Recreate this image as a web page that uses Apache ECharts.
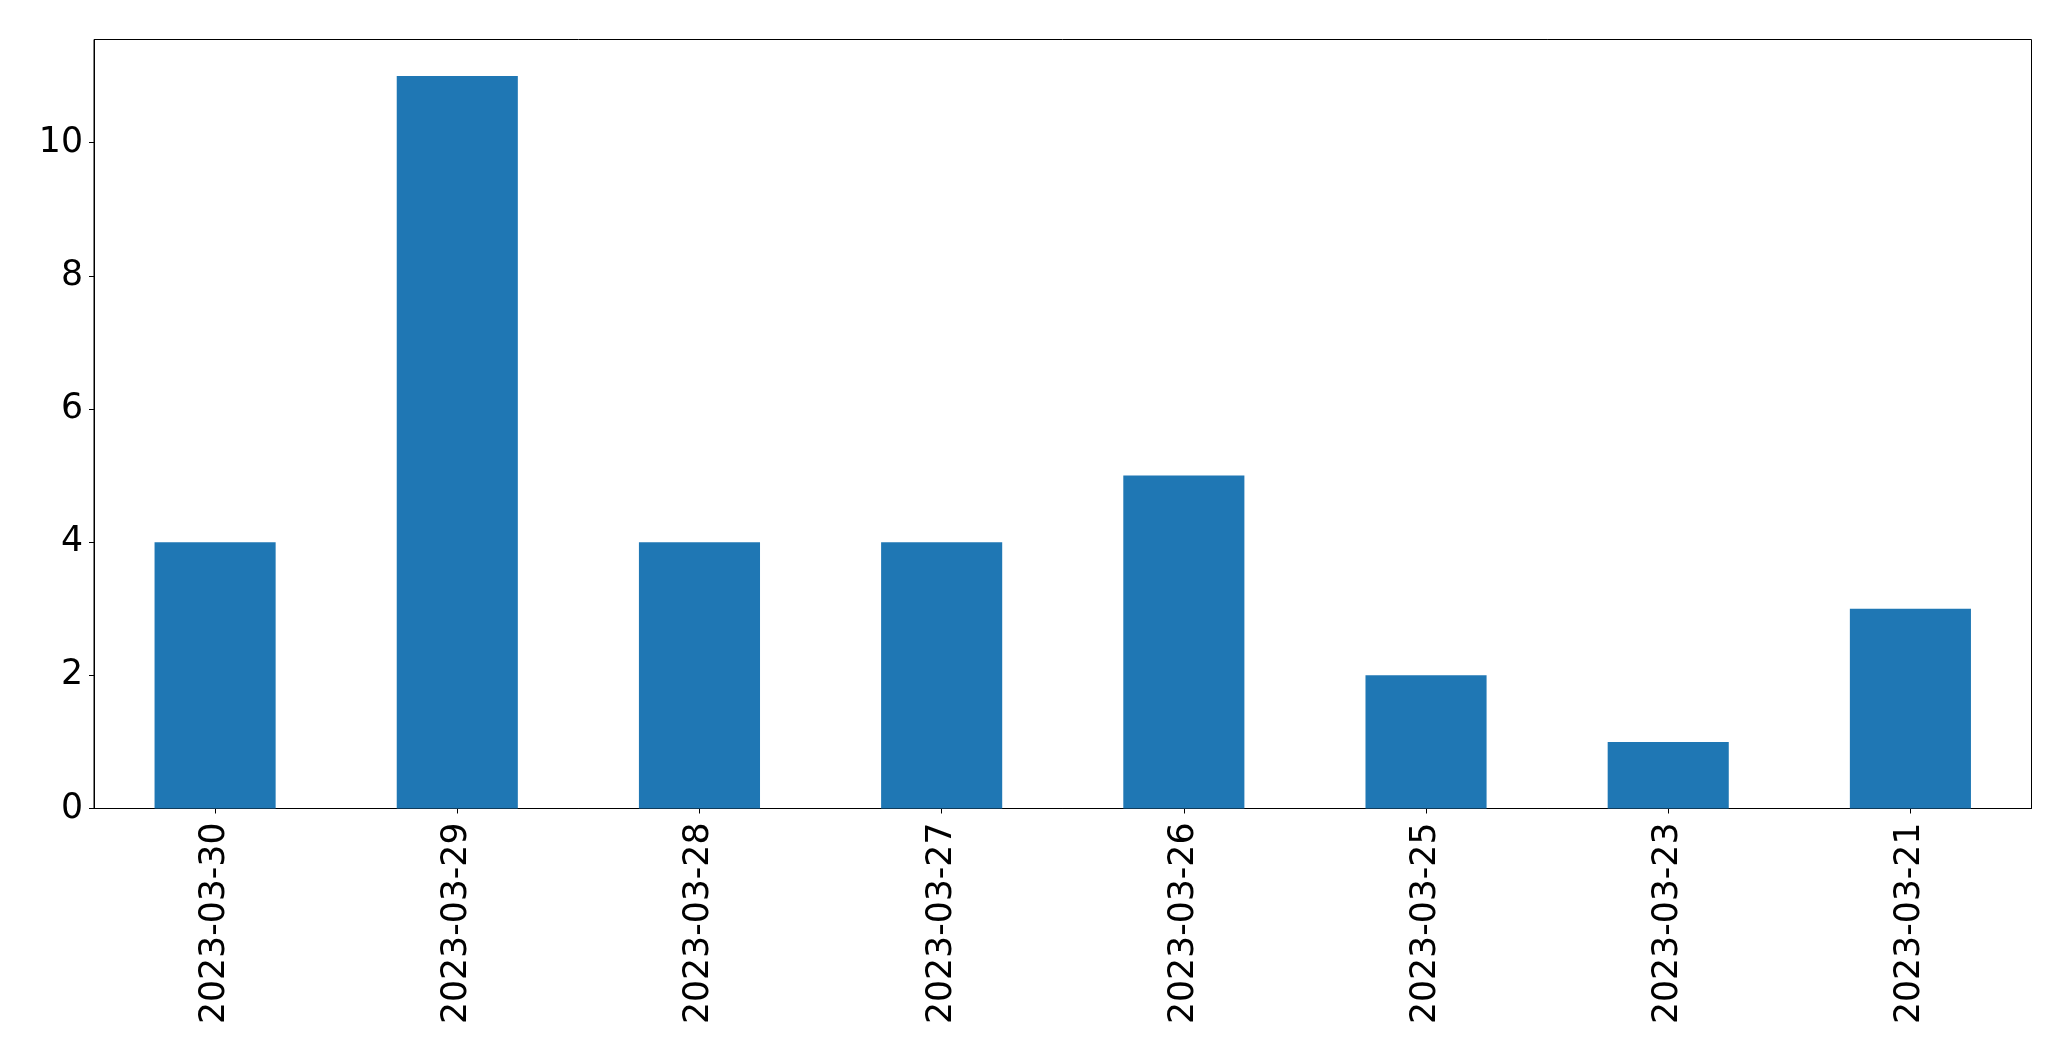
<!DOCTYPE html>
<html>
<head>
<meta charset="utf-8">
<script src="https://cdn.jsdelivr.net/npm/echarts@6/dist/echarts.min.js"></script>
<style>
html,body{margin:0;padding:0;background:#fff;}
#chart{width:2071px;height:1061px;}
</style>
</head>
<body>
<div id="chart"></div>
<script>
const categories = ['2023-03-30','2023-03-29','2023-03-28','2023-03-27','2023-03-26','2023-03-25','2023-03-23','2023-03-21'];
const values = [4, 11, 4, 4, 5, 2, 1, 3];
const yTicks = [0, 2, 4, 6, 8, 10];
const yMax = 11.55;

const chart = echarts.init(document.getElementById('chart'), null, {renderer:'canvas'});
const font = 'DejaVu Sans';
chart.setOption({
  animation: false,
  backgroundColor: '#ffffff',
  grid: {left: 94, right: 39.5, top: 39.5, bottom: 252.5, show: true, borderColor: '#000', borderWidth: 1, backgroundColor: 'transparent'},
  xAxis: {
    type: 'category',
    data: categories,
    boundaryGap: true,
    axisLine: {show: true, lineStyle: {color: '#000', width: 1}},
    axisTick: {show: true, alignWithLabel: true, length: 5, lineStyle: {color: '#000', width: 1}},
    axisLabel: {rotate: 90, margin: 14, color: '#000', fontSize: 34.7, fontFamily: font, interval: 0},
    splitLine: {show: false}
  },
  yAxis: {
    type: 'value',
    min: 0,
    max: yMax,
    interval: 2,
    axisLine: {show: true, lineStyle: {color: '#000', width: 1}},
    axisTick: {show: true, length: 5, lineStyle: {color: '#000', width: 1}, customValues: yTicks},
    axisLabel: {margin: 11, color: '#000', fontSize: 34.7, fontFamily: font, customValues: yTicks},
    splitLine: {show: false}
  },
  series: [{
    type: 'bar',
    data: values,
    barWidth: '50%',
    itemStyle: {color: '#1f77b4'}
  }]
});
</script>
</body>
</html>
